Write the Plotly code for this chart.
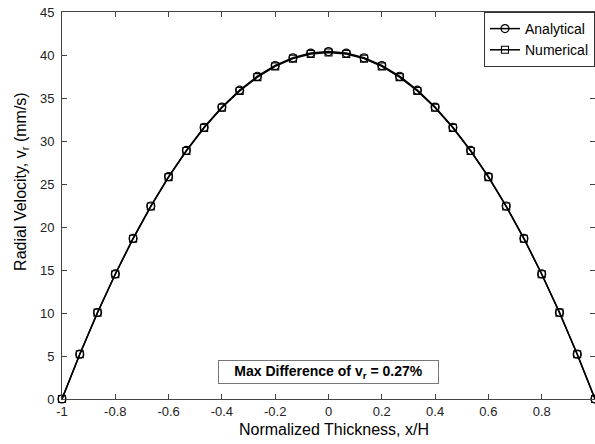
import plotly.graph_objects as go

x_vals = [-1.0, -0.9333, -0.8667, -0.8, -0.7333, -0.6667, -0.6, -0.5333, -0.4667, -0.4,
          -0.3333, -0.2667, -0.2, -0.1333, -0.0667, 0.0, 0.0667, 0.1333, 0.2, 0.2667,
          0.3333, 0.4, 0.4667, 0.5333, 0.6, 0.6667, 0.7333, 0.8, 0.8667, 0.9333, 1.0]

analytical = [0.0, 5.21, 10.06, 14.54, 18.67, 22.44, 25.86, 28.91, 31.60, 33.94,
              35.91, 37.53, 38.78, 39.68, 40.22, 40.40, 40.22, 39.68, 38.78, 37.53,
              35.91, 33.94, 31.60, 28.91, 25.86, 22.44, 18.67, 14.54, 10.06, 5.21, 0.0]

numerical = [0.0, 5.20, 10.04, 14.51, 18.63, 22.39, 25.80, 28.84, 31.53, 33.86,
             35.82, 37.43, 38.68, 39.58, 40.12, 40.29, 40.12, 39.58, 38.68, 37.43,
             35.82, 33.86, 31.53, 28.84, 25.80, 22.39, 18.63, 14.51, 10.04, 5.20, 0.0]

x_ticks = [-1, -0.8, -0.6, -0.4, -0.2, 0, 0.2, 0.4, 0.6, 0.8, 1]
x_tick_labels = ["-1", "-0.8", "-0.6", "-0.4", "-0.2", "0", "0.2", "0.4", "0.6", "0.8", "1"]
y_ticks = [0, 5, 10, 15, 20, 25, 30, 35, 40, 45]

FONT = "Liberation Sans, Arial, sans-serif"

fig = go.Figure()
fig.add_trace(go.Scatter(
    x=x_vals, y=analytical, name="Analytical", mode="lines+markers",
    line=dict(color="black", width=1.5),
    marker=dict(symbol="circle-open", size=8, color="black", line=dict(width=1.2)),
    cliponaxis=False,
))
fig.add_trace(go.Scatter(
    x=x_vals, y=numerical, name="Numerical", mode="lines+markers",
    line=dict(color="black", width=1.5),
    marker=dict(symbol="square-open", size=7, color="black", line=dict(width=1.1)),
    cliponaxis=False,
))

axis_common = dict(
    showgrid=False, zeroline=False, showline=True, linecolor="#444", linewidth=1,
    mirror="ticks", ticks="inside", ticklen=5, tickcolor="#444", tickwidth=1,
    tickfont=dict(family=FONT, size=13, color="#222"),
)

fig.update_xaxes(range=[-1, 1], tickvals=x_ticks, ticktext=x_tick_labels, **axis_common)
fig.update_yaxes(range=[0, 45], tickvals=y_ticks, ticklabelstandoff=4, **axis_common)

fig.add_annotation(
    x=0, y=3.14, xref="x", yref="y",
    text="<b>Max Difference of v<sub>r</sub> = 0.27%</b>",
    showarrow=False, font=dict(family=FONT, size=14, color="black"),
    bgcolor="white", bordercolor="#777", borderwidth=1, borderpad=1,
    width=217, height=20,
)
fig.add_annotation(
    x=0.51, y=-0.08, xref="paper", yref="paper",
    text="Normalized Thickness, x/H", showarrow=False,
    font=dict(family=FONT, size=16, color="black"),
    xanchor="center", yanchor="middle",
)
fig.add_annotation(
    x=-0.075, y=0.561, xref="paper", yref="paper",
    text="Radial Velocity, v<sub>r</sub> (mm/s)", showarrow=False, textangle=-90,
    font=dict(family=FONT, size=16, color="black"),
    xanchor="center", yanchor="middle",
)

fig.update_layout(
    width=595, height=444,
    margin=dict(l=62, r=0, t=12, b=45),
    plot_bgcolor="white", paper_bgcolor="white",
    showlegend=True,
    legend=dict(
        x=1, xanchor="right", y=1, yanchor="top",
        bgcolor="white", bordercolor="#333", borderwidth=1,
        font=dict(family=FONT, size=14, color="black"),
        tracegroupgap=0, itemwidth=30,
    ),
)

fig.write_html("out.html")
